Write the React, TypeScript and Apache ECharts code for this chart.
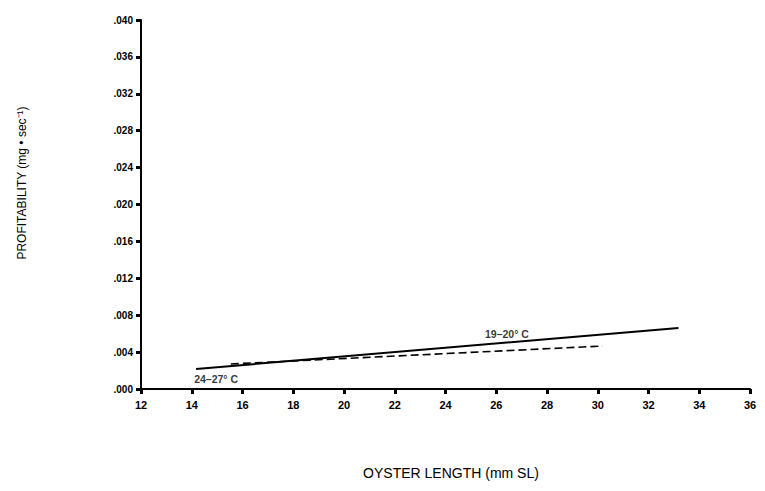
import React, { useEffect, useRef } from "react";
import * as echarts from "echarts";

const solidLine: [number, number][] = [
  [14.17, 0.00217],
  [33.18, 0.00661],
];
const dashedLine: [number, number][] = [
  [15.54, 0.00271],
  [30.19, 0.00466],
];
const lineLabels: { text: string; x: number; y: number }[] = [
  { text: "24–27° C", x: 14.96, y: 0.00108 },
  { text: "19–20° C", x: 26.42, y: 0.00596 },
];
const xTitle = "OYSTER LENGTH (mm SL)";
const yTitle = "PROFITABILITY (mg • sec⁻¹)";

const FONT = "'Liberation Sans', Arial, sans-serif";

export default function App() {
  const ref = useRef<HTMLDivElement>(null);
  useEffect(() => {
    if (!ref.current) return;
    const chart = echarts.init(ref.current, null, { renderer: "svg" });
    chart.setOption({
      animation: false,
      backgroundColor: "#ffffff",
      grid: { left: 141, right: 15, top: 20, bottom: 102, containLabel: false },
      graphic: [
        {
          type: "text",
          x: 451,
          y: 473,
          style: {
            text: xTitle,
            fontFamily: FONT,
            fontSize: 14,
            fill: "#000",
            align: "center",
            verticalAlign: "middle",
          },
        },
        {
          type: "text",
          x: 22,
          y: 183,
          rotation: Math.PI / 2,
          style: {
            text: yTitle,
            fontFamily: FONT,
            fontSize: 12,
            fill: "#000",
            align: "center",
            verticalAlign: "middle",
          },
        },
      ],
      xAxis: {
        type: "value",
        min: 12,
        max: 36,
        interval: 2,
        axisLine: { show: true, lineStyle: { color: "#000", width: 2 } },
        axisTick: { show: true, length: 5, lineStyle: { color: "#000", width: 3 } },
        axisLabel: { fontFamily: FONT, fontSize: 11, fontWeight: "bold", color: "#000", margin: 10 },
        splitLine: { show: false },
      },
      yAxis: {
        type: "value",
        min: 0,
        max: 0.04,
        interval: 0.004,
        axisLine: { show: true, lineStyle: { color: "#000", width: 2 } },
        axisTick: { show: true, length: 5, lineStyle: { color: "#000", width: 3 } },
        axisLabel: {
          fontFamily: FONT,
          fontSize: 10,
          fontWeight: "bold",
          color: "#000",
          margin: 8,
          formatter: (v: number) => v.toFixed(3).replace(/^0/, ""),
        },
        splitLine: { show: false },
      },
      series: [
        {
          type: "line",
          data: solidLine,
          symbol: "none",
          lineStyle: { color: "#000", width: 2, type: "solid" },
          z: 3,
        },
        {
          type: "line",
          data: dashedLine,
          symbol: "none",
          lineStyle: { color: "#000", width: 1.6, type: [8, 4] },
          z: 2,
        },
        {
          type: "scatter",
          data: lineLabels.map((l) => ({ value: [l.x, l.y], name: l.text })),
          symbolSize: 0,
          label: {
            show: true,
            position: "inside",
            formatter: (p: any) => p.name,
            fontFamily: FONT,
            fontSize: 10.5,
            fontWeight: "bold",
            color: "#000",
          },
          z: 4,
        },
      ],
    });
    return () => chart.dispose();
  }, []);
  return <div ref={ref} style={{ width: 765, height: 491, margin: -8 }} />;
}
